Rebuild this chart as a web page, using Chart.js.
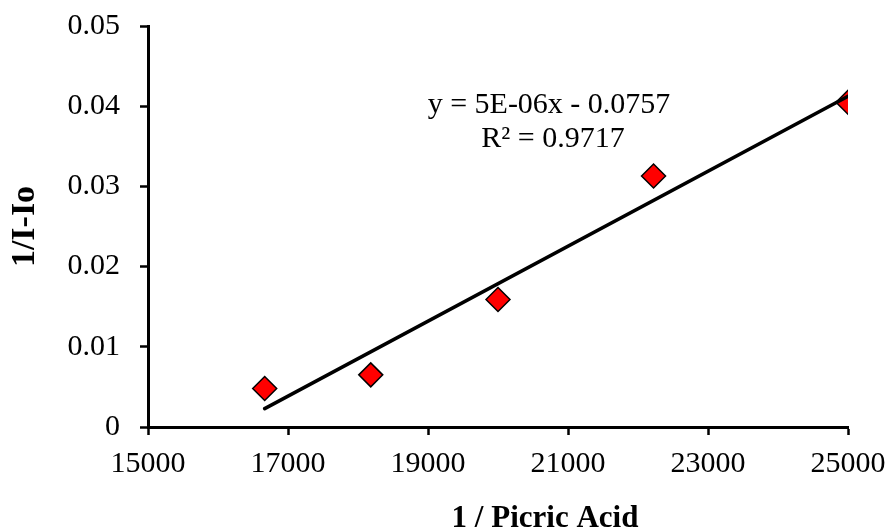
<!DOCTYPE html>
<html>
<head>
<meta charset="utf-8">
<script src="https://cdn.jsdelivr.net/npm/chart.js@4/dist/chart.umd.min.js"></script>
<style>
  html, body { margin: 0; padding: 0; background: #fff; }
  #wrap { width: 891px; height: 532px; position: relative; }
</style>
</head>
<body>
<div id="wrap"><canvas id="grafico"></canvas></div>
<script>
// dados: 1/[ácido pícrico] contra 1/(I-Io)
const invPicric = [16667, 18182, 20000, 22222, 25000];
const invIntensity = [0.0048, 0.0065, 0.0159, 0.0313, 0.0405];

// rótulos dos eixos
const xTickLabels = ['15000', '17000', '19000', '21000', '23000', '25000'];
const yTickLabels = ['0', '0.01', '0.02', '0.03', '0.04', '0.05'];
const equationLines = ['y = 5E-06x - 0.0757', 'R\u00B2 = 0.9717'];
const xTitle = '1 / Picric Acid';
const yTitle = '1/I-Io';

// reta de tendência por mínimos quadrados
const n = invPicric.length;
const mx = invPicric.reduce((a, b) => a + b, 0) / n;
const my = invIntensity.reduce((a, b) => a + b, 0) / n;
let sxy = 0, sxx = 0;
for (let i = 0; i < n; i++) {
  sxy += (invPicric[i] - mx) * (invIntensity[i] - my);
  sxx += (invPicric[i] - mx) * (invPicric[i] - mx);
}
const slope = sxy / sxx;
const intercept = my - slope * mx;
const xMin = Math.min(...invPicric), xMax = Math.max(...invPicric);
const trend = [
  { x: xMin, y: slope * xMin + intercept },
  { x: xMax, y: slope * xMax + intercept }
];

const fonte = "'Liberation Serif', 'Times New Roman', serif";

// texto da equação e título do eixo x
const textos = {
  id: 'textos',
  afterDraw(chart) {
    const ctx = chart.ctx;
    const area = chart.chartArea;
    ctx.save();
    ctx.fillStyle = '#000';
    ctx.textAlign = 'center';
    ctx.textBaseline = 'alphabetic';
    ctx.font = '30px ' + fonte;
    ctx.fillText(equationLines[0], area.left + 401, area.top + 87);
    ctx.fillText(equationLines[1], area.left + 405, area.top + 121);
    ctx.font = 'bold 31px ' + fonte;
    ctx.fillText(xTitle, area.left + 397, area.bottom + 100);
    ctx.restore();
  }
};

new Chart(document.getElementById('grafico'), {
  type: 'scatter',
  data: {
    datasets: [{
      type: 'line',
      label: 'tendência',
      data: trend,
      borderColor: '#000',
      borderWidth: 3.5,
      borderCapStyle: 'round',
      pointRadius: 0,
      fill: false
    }, {
      label: 'pontos',
      data: invPicric.map((x, i) => ({ x: x, y: invIntensity[i] })),
      pointStyle: 'rectRot',
      pointRadius: 12,
      pointHoverRadius: 12,
      backgroundColor: '#ff0000',
      borderColor: '#000',
      borderWidth: 1.5
    }]
  },
  options: {
    responsive: true,
    maintainAspectRatio: false,
    animation: false,
    layout: { padding: { top: 26, right: 43, left: 0, bottom: 0 } },
    plugins: {
      legend: { display: false },
      tooltip: { enabled: false }
    },
    scales: {
      x: {
        type: 'linear',
        min: 15000,
        max: 25000,
        afterFit(scale) {
          scale.height = 105;
          scale.paddingLeft = 0;
          scale.paddingRight = 0;
        },
        afterBuildTicks(scale) {
          scale.ticks = xTickLabels.map(t => ({ value: Number(t) }));
        },
        ticks: {
          color: '#000',
          padding: 11,
          maxRotation: 0,
          font: { family: fonte, size: 30 },
          callback: (v, i) => xTickLabels[i]
        },
        grid: {
          drawOnChartArea: false,
          drawTicks: true,
          tickLength: 8,
          tickWidth: 2.5,
          tickColor: '#000'
        },
        border: { display: true, color: '#000', width: 3 }
      },
      y: {
        min: 0,
        max: 0.05,
        afterFit(scale) {
          scale.width = 148;
          // o espaçamento dos rótulos não deve empurrar a área do gráfico
          scale.paddingTop = 0;
          scale.paddingBottom = 0;
        },
        afterBuildTicks(scale) {
          scale.ticks = yTickLabels.map(t => ({ value: Number(t) }));
        },
        ticks: {
          color: '#000',
          padding: 20,
          font: { family: fonte, size: 30 },
          callback: (v, i) => yTickLabels[i]
        },
        grid: {
          drawOnChartArea: false,
          drawTicks: true,
          tickLength: 8,
          tickWidth: 2.5,
          tickColor: '#000'
        },
        border: { display: true, color: '#000', width: 3 },
        title: {
          display: true,
          text: yTitle,
          color: '#000',
          padding: { top: 5, bottom: 0 },
          font: { family: fonte, size: 34, weight: 'bold' }
        }
      }
    }
  },
  plugins: [textos]
});
</script>
</body>
</html>
